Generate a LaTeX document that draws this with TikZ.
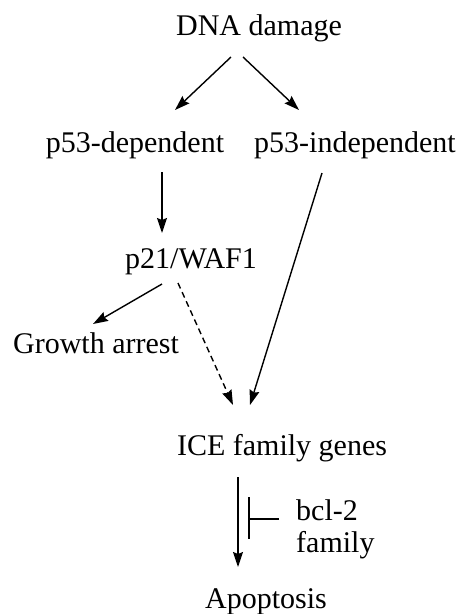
\documentclass[tikz,border=0pt]{standalone}
\usepackage{fontspec}
\setmainfont{Liberation Serif}
\usetikzlibrary{arrows.meta}
\begin{document}
\begin{tikzpicture}[x=1pt,y=1pt,
  lbl/.style={inner sep=0pt, anchor=base, font=\fontsize{30}{34}\selectfont},
  arr/.style={line width=1.4pt, -{Stealth[length=15pt,width=10pt,inset=2pt]}},
  dasharr/.style={arr, dash pattern=on 6pt off 4pt}]
\useasboundingbox (0,0) rectangle (462,-614);
\node[lbl] (dna)    at (259,-35.5) {DNA damage};
\node[lbl] (dep)    at (135,-152) {p53-dependent};
\node[lbl] (indep)  at (355,-152) {p53-independent};
\node[lbl] (p21)    at (191,-268) {p21/WAF1};
\node[lbl] (growth) at (96,-353) {Growth arrest};
\node[lbl] (ice)    at (282,-455) {ICE family genes};
\node[lbl, anchor=base west] (bcl) at (296,-520) {bcl-2};
\node[lbl, anchor=base west] (fam) at (296,-552) {family};
\node[lbl] (apo)    at (266,-608) {Apoptosis};

\draw[arr] ([shift={(-28,-21.5)}]dna.base) -- ([shift={(40,42)}]dep.base);
\draw[arr] ([shift={(-16,-21.5)}]dna.base) -- ([shift={(-56,42)}]indep.base);
\draw[arr] ([shift={(27,-20)}]dep.base) -- ([shift={(-29,35)}]p21.base);
\draw[arr] ([shift={(-29,-16)}]p21.base) -- ([shift={(-3,29)}]growth.base);
\draw[dasharr] ([shift={(-13,-15)}]p21.base) -- ([shift={(-49,50)}]ice.base);
\draw[arr] ([shift={(-33,-21)}]indep.base) -- ([shift={(-32,50)}]ice.base);
\draw[arr] ([shift={(-44,-22)}]ice.base) -- ([shift={(-28,41)}]apo.base);
\draw[line width=1.4pt] ([shift={(-17,1)}]bcl.base west) -- ([shift={(-47,1)}]bcl.base west);
\draw[line width=1.4pt] ([shift={(-47,23)}]bcl.base west) -- ([shift={(-47,-19)}]bcl.base west);
\end{tikzpicture}
\end{document}
